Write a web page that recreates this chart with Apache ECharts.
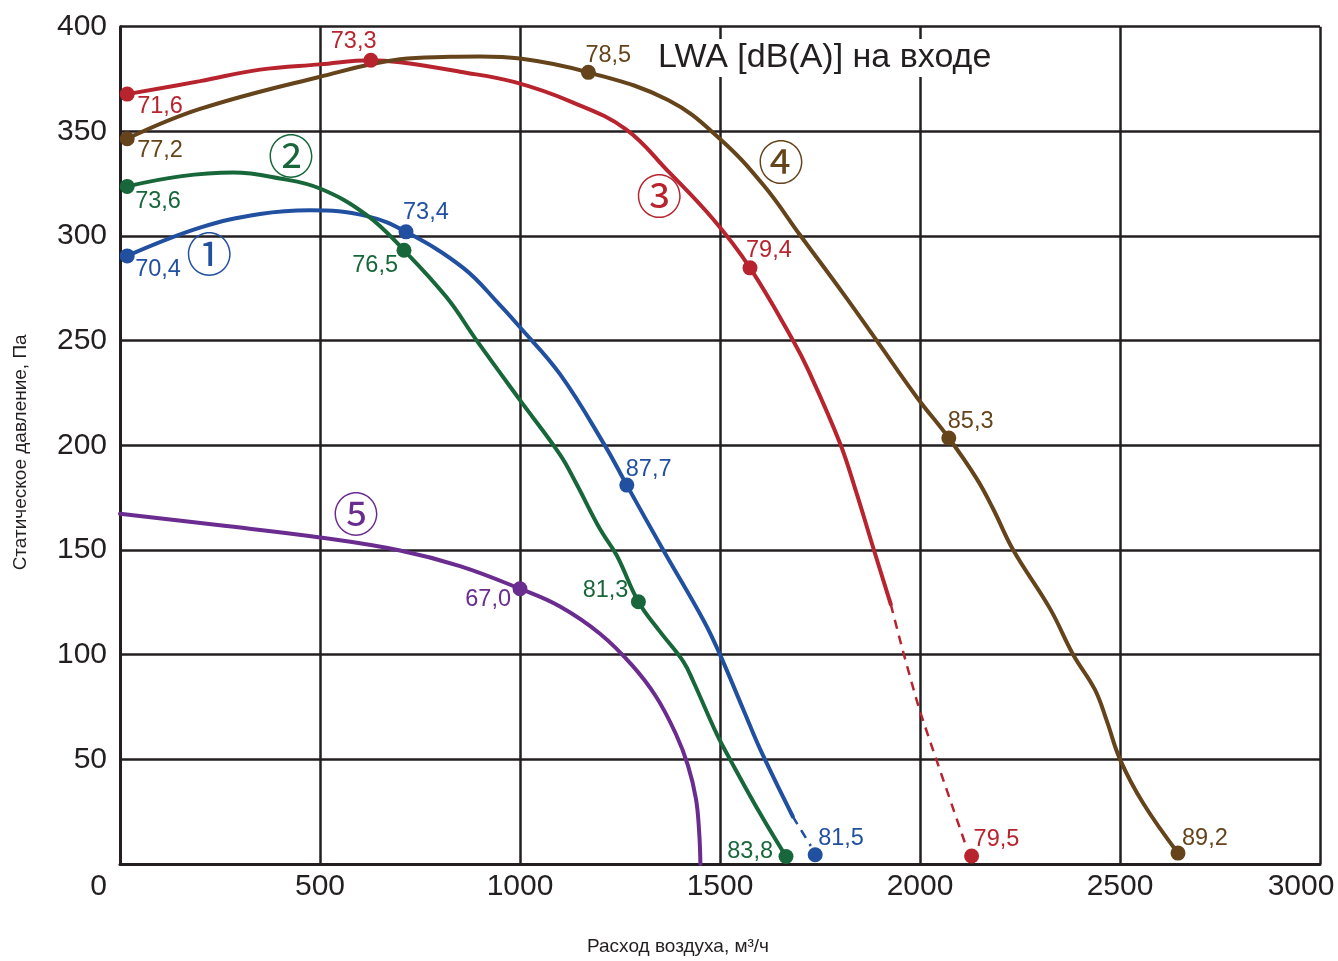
<!DOCTYPE html>
<html>
<head>
<meta charset="utf-8">
<script src="https://cdn.jsdelivr.net/npm/echarts@6/dist/echarts.min.js"></script>
<style>
html,body{margin:0;padding:0;background:#fff;}
#chart{width:1338px;height:961px;}
</style>
</head>
<body>
<div id="chart"></div>
<script>
// ---- axis ranges / ticks ----
const xRange = [0, 3000];
const xStep = 500;
const yRange = [0, 400];
const yStep = 50;
const xAxisTitle = 'Расход воздуха, м³/ч';
const yAxisTitle = 'Статическое давление, Па';
const noteText = 'LWA [dB(A)] на входе';

// ---- curve 1 (blue) ----
const curve1 = [[18,290.5],[200,304],[350,310.5],[475,312.3],[617,309.5],[715,302],[858,284.8],[950,267],[1000,256.4],[1100,234],[1212,200],[1267,181],[1358,150],[1460,116],[1500,100],[1560,73],[1600,55],[1682,22.7]];
const curve1Dash = [[1682,22.7],[1727,8.6]];
const curve1Pts = [[18,290.5],[715,302],[1267,181],[1738,4.4]];
const curve1Lwa = ['70,4','73,4','87,7','81,5'];

// ---- curve 2 (green) ----
const curve2 = [[18,323.7],[150,328.5],[283,330.3],[400,327.5],[500,322.7],[617,310],[710,293.2],[817,270.6],[892,250],[1000,221.6],[1100,195.6],[1140,182],[1200,160],[1242,147.4],[1296,125.3],[1350,111],[1408,96.8],[1433,87.3],[1492,62],[1525,50],[1600,24.2],[1665,3.6]];
const curve2Pts = [[18,323.7],[710,293.2],[1296,125.3],[1665,3.6]];
const curve2Lwa = ['73,6','76,5','81,3','83,8'];

// ---- curve 3 (red) ----
const curve3 = [[18,367.8],[200,374],[350,379.5],[500,382],[627,384],[700,383],[850,378.5],[987,373.5],[1130,364],[1265,351],[1370,331],[1483,308],[1575,284.8],[1683,250],[1721,235.8],[1800,201],[1840,178],[1880,153],[1927,124]];
const curve3Dash = [[1927,124],[1957,102],[2000,73],[2117,7.6]];
const curve3Pts = [[18,367.8],[627,384],[1575,284.8],[2129,3.8]];
const curve3Lwa = ['71,6','73,3','79,4','79,5'];

// ---- curve 4 (brown) ----
const curve4 = [[18,346.5],[200,360.7],[498,376],[700,384.4],[825,385.6],[900,385.8],[1000,384.8],[1171,378.2],[1370,365],[1500,346.4],[1610,324],[1700,300.5],[1810,272],[1892,250],[1992,223],[2072,203.5],[2142,184],[2183,169.6],[2233,150],[2325,122],[2383,100],[2437,83.4],[2467,68.4],[2500,50],[2558,29],[2645,5.2]];
const curve4Pts = [[18,346.5],[1171,378.2],[2072,203.5],[2645,5.2]];
const curve4Lwa = ['77,2','78,5','85,3','89,2'];

// ---- curve 5 (purple) ----
const curve5 = [[0,167.3],[250,161.8],[500,156],[700,149.8],[850,142.3],[1000,131.5],[1100,123],[1200,110],[1280,95],[1340,80],[1390,62],[1420,47],[1440,31],[1448,15],[1451,0]];
const curve5Pts = [[1000,131.5]];
const curve5Lwa = ['67,0'];

// ---- curve numbers (circled) ----
const curveNames = ['①','②','③','④','⑤'];
const curveNamePos = [[223,291.7],[427.5,338.5],[1348,319.5],[1652.5,335.5],[590,167.3]];

// ---- styles ----
const colors = ['#2150a0','#17673a','#b8242e','#65431b','#6a2c8f'];
const labelLayouts = [
  [['left',8,14],['left',-3,-19],['left',-1,-16],['left',3,-16]],
  [['left',8,15],['right',-6,15],['right',-10,-11],['right',-13,-5]],
  [['left',10,12],['left',-40,-19],['left',-4,-17],['left',2,-17]],
  [['left',10,12],['left',-3,-17],['left',-1,-17],['left',4,-15]],
  [['right',-9,11]]
];
const FONT = '"Liberation Sans", Arial, sans-serif';
const TXT = '#231f20';

const solids = [curve1, curve2, curve3, curve4, curve5];
const dashes = [curve1Dash, null, curve3Dash, null, null];
const pts = [curve1Pts, curve2Pts, curve3Pts, curve4Pts, curve5Pts];
const lwas = [curve1Lwa, curve2Lwa, curve3Lwa, curve4Lwa, curve5Lwa];

const series = [];
solids.forEach((d, i) => {
  series.push({
    type: 'line', data: d, smooth: 0.4, symbol: 'none', z: 3,
    lineStyle: {color: colors[i], width: 4, cap: 'round'}
  });
  if (dashes[i]) {
    series.push({
      type: 'line', data: dashes[i], smooth: 0.2, symbol: 'none', z: 3,
      lineStyle: {color: colors[i], width: 2.5, type: [9, 7]}
    });
  }
});
pts.forEach((d, i) => {
  series.push({
    type: 'scatter', z: 5, symbolSize: 15,
    itemStyle: {color: colors[i], opacity: 1},
    data: d.map((p, j) => ({
      value: p,
      label: {
        show: true, formatter: lwas[i][j], position: 'inside',
        align: labelLayouts[i][j][0], verticalAlign: 'middle',
        offset: [labelLayouts[i][j][1], labelLayouts[i][j][2]],
        color: colors[i], opacity: 1, fontSize: 23.5, fontFamily: FONT
      }
    }))
  });
});
series.push({
  type: 'scatter', z: 6, symbolSize: 1, itemStyle: {color: 'rgba(0,0,0,0)', opacity: 1},
  data: curveNamePos.map((p, i) => ({
    value: p,
    label: {
      show: true, formatter: curveNames[i], position: 'inside',
      align: 'center', verticalAlign: 'middle', opacity: 1,
      color: colors[i], fontSize: 46, fontFamily: '"Noto Sans CJK SC", "DejaVu Sans", sans-serif'
    }
  }))
});

const chart = echarts.init(document.getElementById('chart'), null, {renderer: 'canvas'});
chart.setOption({
  animation: false,
  backgroundColor: '#fff',
  title: {
    text: noteText, left: 651, top: 39, padding: [2, 7, 2, 7],
    backgroundColor: '#fff', z: 10,
    textStyle: {fontSize: 34, fontWeight: 'normal', color: TXT, fontFamily: FONT}
  },
  grid: {left: 120, right: 18, top: 26.7, bottom: 90, containLabel: false},
  xAxis: {
    type: 'value', min: xRange[0], max: xRange[1], interval: xStep,
    name: xAxisTitle, nameLocation: 'middle', nameGap: 73,
    nameTextStyle: {fontSize: 19, color: TXT, fontFamily: FONT, padding: [0, 84, 0, 0]},
    axisLine: {show: true, lineStyle: {color: TXT, width: 3}},
    axisTick: {show: false},
    splitLine: {show: true, lineStyle: {color: TXT, width: 2.5}},
    axisLabel: {
      margin: 8, fontSize: 30, color: TXT, fontFamily: FONT,
      formatter: v => v === xRange[0] ? '{z|' + v + '}' : (v === xRange[1] ? '{e|' + v + '}' : String(v)),
      rich: {
        z: {fontSize: 30, color: TXT, fontFamily: FONT, padding: [0, 43, 0, 0]},
        e: {fontSize: 30, color: TXT, fontFamily: FONT, padding: [0, 38, 0, 0]}
      }
    }
  },
  yAxis: {
    type: 'value', min: yRange[0], max: yRange[1], interval: yStep,
    name: yAxisTitle, nameLocation: 'middle', nameGap: 90,
    nameTextStyle: {fontSize: 19, color: TXT, fontFamily: FONT, padding: [0, 14, 0, 0]},
    axisLine: {show: true, lineStyle: {color: TXT, width: 3}},
    axisTick: {show: false},
    splitLine: {show: true, lineStyle: {color: TXT, width: 2.5}},
    axisLabel: {margin: 13, fontSize: 30, color: TXT, fontFamily: FONT, showMinLabel: false}
  },
  series: series
});
</script>
</body>
</html>
